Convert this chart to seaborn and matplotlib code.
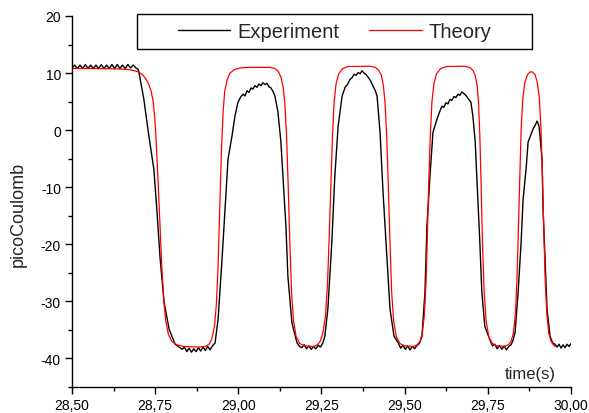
import pandas as pd
import seaborn as sns
import matplotlib.pyplot as plt
from matplotlib.ticker import MultipleLocator, FuncFormatter
from matplotlib.patches import Rectangle

# experiment trace (time in s, charge in pC)
exp_t = [28.500, 28.508, 28.516, 28.524, 28.532, 28.540, 28.548, 28.556, 28.564, 28.572,
         28.580, 28.588, 28.596, 28.604, 28.612, 28.620, 28.628, 28.636, 28.644, 28.652,
         28.660, 28.668, 28.676, 28.684, 28.692, 28.698, 28.701, 28.716, 28.731, 28.746,
         28.755, 28.765, 28.777, 28.792, 28.810, 28.831, 28.838, 28.845, 28.852, 28.859,
         28.866, 28.873, 28.880, 28.887, 28.894, 28.901, 28.908, 28.915, 28.922, 28.930,
         28.939, 28.951, 28.960, 28.969, 28.981, 28.990, 28.999, 29.007, 29.014, 29.020,
         29.026, 29.032, 29.038, 29.044, 29.050, 29.056, 29.062, 29.068, 29.074, 29.080,
         29.086, 29.092, 29.098, 29.104, 29.110, 29.119, 29.128, 29.134, 29.143, 29.149,
         29.161, 29.176, 29.184, 29.191, 29.198, 29.205, 29.212, 29.219, 29.226, 29.233,
         29.240, 29.247, 29.254, 29.260, 29.269, 29.281, 29.290, 29.300, 29.312, 29.321,
         29.328, 29.336, 29.342, 29.348, 29.354, 29.360, 29.366, 29.372, 29.378, 29.384,
         29.390, 29.398, 29.405, 29.411, 29.417, 29.426, 29.435, 29.447, 29.456, 29.468,
         29.480, 29.488, 29.495, 29.502, 29.509, 29.516, 29.523, 29.530, 29.537, 29.544,
         29.552, 29.561, 29.567, 29.576, 29.585, 29.597, 29.605, 29.612, 29.618, 29.624,
         29.630, 29.636, 29.642, 29.648, 29.654, 29.660, 29.666, 29.672, 29.678, 29.684,
         29.690, 29.699, 29.705, 29.712, 29.719, 29.726, 29.732, 29.741, 29.756, 29.764,
         29.771, 29.778, 29.785, 29.792, 29.799, 29.806, 29.813, 29.820, 29.826, 29.832,
         29.841, 29.850, 29.856, 29.865, 29.871, 29.880, 29.886, 29.892, 29.898, 29.904,
         29.913, 29.916, 29.922, 29.928, 29.937, 29.945, 29.952, 29.958, 29.964, 29.970,
         29.976, 29.982, 29.988, 29.994, 30.000]
exp_q = [10.9, 11.4, 10.8, 11.4, 10.8, 11.5, 10.8, 11.4, 10.8, 11.4,
         10.8, 11.5, 10.8, 11.4, 10.8, 11.5, 10.8, 11.5, 10.8, 11.4,
         10.8, 11.5, 10.9, 11.4, 10.9, 10.7, 10.2, 5.4, -1.0, -6.8,
         -13.9, -22.6, -30.2, -34.9, -37.5, -38.4, -38.0, -38.8, -38.2, -38.9,
         -38.3, -38.8, -38.1, -38.7, -38.0, -38.6, -37.9, -38.5, -37.8, -37.3,
         -33.2, -22.6, -13.9, -5.1, -1.0, 2.5, 4.9, 5.8, 6.3, 6.0,
         6.9, 6.6, 7.4, 7.2, 7.8, 7.5, 8.1, 7.8, 8.3, 8.0,
         8.2, 7.6, 7.4, 6.8, 6.0, 3.2, -2.1, -8.1, -16.8, -25.6,
         -33.7, -37.2, -37.9, -38.1, -37.6, -38.3, -37.8, -38.4, -37.9, -38.3,
         -37.7, -38.0, -37.3, -36.1, -31.4, -19.7, -8.1, 0.7, 6.0, 7.5,
         8.0, 8.9, 9.2, 9.8, 9.6, 10.1, 9.9, 10.4, 10.0, 9.7,
         9.3, 8.6, 7.7, 7.0, 6.0, -0.4, -10.9, -22.6, -31.4, -36.1,
         -37.2, -38.2, -37.7, -38.4, -37.8, -38.5, -37.9, -38.3, -37.7, -37.4,
         -36.1, -28.4, -16.8, -8.1, -0.4, 1.9, 3.2, 4.2, 4.0, 4.8,
         4.6, 5.4, 5.2, 5.9, 5.7, 6.3, 6.1, 6.7, 6.4, 6.1,
         5.6, 4.9, 2.5, -2.0, -10.9, -19.7, -28.4, -34.4, -36.7, -37.8,
         -37.5, -38.3, -37.7, -38.4, -37.8, -38.5, -37.9, -37.6, -36.8, -35.4,
         -28.4, -19.7, -12.1, -6.8, -2.1, -0.7, 0.2, 0.8, 1.6, 0.7,
         -5.1, -13.9, -22.6, -31.4, -36.1, -37.3, -37.5, -38.0, -37.5, -38.2,
         -37.6, -38.1, -37.5, -37.9, -37.4]

# theory curve
theo_t = [28.500, 28.560, 28.620, 28.650, 28.670, 28.685, 28.700, 28.712, 28.722, 28.731,
          28.738, 28.744, 28.749, 28.753, 28.758, 28.764, 28.770, 28.776, 28.782, 28.790,
          28.800, 28.815, 28.835, 28.880, 28.900, 28.912, 28.920, 28.928, 28.934, 28.939,
          28.944, 28.949, 28.954, 28.959, 28.966, 28.975, 28.988, 29.005, 29.030, 29.095,
          29.110, 29.120, 29.128, 29.135, 29.140, 29.145, 29.150, 29.155, 29.160, 29.166,
          29.174, 29.185, 29.200, 29.225, 29.238, 29.247, 29.255, 29.262, 29.268, 29.273,
          29.278, 29.283, 29.288, 29.294, 29.302, 29.314, 29.330, 29.395, 29.412, 29.422,
          29.430, 29.436, 29.441, 29.446, 29.451, 29.456, 29.461, 29.467, 29.475, 29.486,
          29.500, 29.525, 29.538, 29.546, 29.553, 29.559, 29.564, 29.568, 29.572, 29.577,
          29.582, 29.588, 29.596, 29.608, 29.625, 29.680, 29.695, 29.705, 29.712, 29.718,
          29.722, 29.726, 29.730, 29.734, 29.739, 29.745, 29.753, 29.764, 29.778, 29.800,
          29.812, 29.820, 29.827, 29.833, 29.838, 29.842, 29.846, 29.850, 29.855, 29.861,
          29.869, 29.877, 29.884, 29.892, 29.899, 29.905, 29.910, 29.914, 29.918, 29.922,
          29.927, 29.933, 29.940, 29.948, 29.953]
theo_q = [10.8, 10.8, 10.75, 10.7, 10.6, 10.45, 10.2, 9.7, 9.0, 8.0,
          6.8, 5.0, 2.0, -2.0, -8.0, -16.0, -24.0, -30.0, -33.5, -35.8,
          -37.0, -37.6, -37.9, -38.0, -37.9, -37.5, -36.6, -34.5, -30.5, -24.0,
          -14.0, -4.0, 3.0, 6.8, 8.8, 10.0, 10.6, 10.9, 11.0, 11.0,
          10.8, 10.3, 9.3, 7.5, 4.5, -1.0, -10.0, -20.0, -28.5, -33.5,
          -36.2, -37.4, -37.8, -37.9, -37.6, -36.9, -35.3, -32.5, -27.0, -19.0,
          -10.0, -1.0, 5.0, 8.2, 9.9, 10.8, 11.15, 11.2, 11.0, 10.5,
          9.6, 7.8, 4.8, -1.0, -10.0, -20.0, -28.5, -33.5, -36.2, -37.4,
          -37.8, -37.9, -37.6, -37.0, -35.5, -32.5, -27.0, -19.0, -10.0, -1.0,
          5.0, 8.2, 9.9, 10.8, 11.15, 11.2, 11.0, 10.5, 9.6, 7.8,
          4.8, -1.0, -10.0, -20.0, -28.5, -33.5, -36.2, -37.4, -37.8, -37.9,
          -37.6, -37.0, -35.5, -32.0, -25.5, -17.0, -8.0, 0.0, 5.5, 8.3,
          9.7, 10.2, 10.2, 9.7, 8.3, 5.5, 0.0, -8.0, -17.0, -25.5,
          -32.0, -35.5, -37.0, -37.7, -37.9]

x_ticks = [28.50, 28.75, 29.00, 29.25, 29.50, 29.75, 30.00]
y_ticks = [-40, -30, -20, -10, 0, 10, 20]

exp_df = pd.DataFrame({'t': exp_t, 'q': exp_q})
theo_df = pd.DataFrame({'t': theo_t, 'q': theo_q})

sns.set_style('ticks')
plt.rcParams['font.family'] = ['Liberation Sans', 'DejaVu Sans']

fig = plt.figure(figsize=(5.89, 4.14), dpi=100)
ax = fig.add_axes([72 / 589, 1 - 388 / 414, 499 / 589, 371 / 414])

sns.lineplot(data=exp_df, x='t', y='q', ax=ax, color='black', lw=1.0,
             sort=False, estimator=None, label='Experiment')
sns.lineplot(data=theo_df, x='t', y='q', ax=ax, color='red', lw=0.9,
             sort=False, estimator=None, label='Theory')

ax.set_xlim(28.5, 30.0)
ax.set_ylim(-45, 20)
ax.set_xticks(x_ticks)
ax.set_yticks(y_ticks)
ax.xaxis.set_minor_locator(MultipleLocator(0.125))
ax.yaxis.set_minor_locator(MultipleLocator(5))
ax.xaxis.set_major_formatter(FuncFormatter(lambda v, p: f'{v:.2f}'.replace('.', ',')))
ax.yaxis.set_major_formatter(FuncFormatter(lambda v, p: f'{v:.0f}'))
ax.tick_params(which='major', direction='out', length=5, width=1, colors='black',
               labelsize=10, pad=3)
ax.tick_params(which='minor', direction='out', length=3, width=1, colors='black')
sns.despine(ax=ax)
for s in ['left', 'bottom']:
    ax.spines[s].set_linewidth(1)
    ax.spines[s].set_color('black')

ax.set_ylabel('picoCoulomb', fontsize=13, va='center')
ax.yaxis.set_label_coords((18 - 72) / 499, (388 - 214) / 371)
ax.set_xlabel('time(s)', fontsize=12, ha='right', va='center')
ax.xaxis.set_label_coords((556 - 72) / 499, (388 - 375) / 371)

handles, labels = ax.get_legend_handles_labels()
ax.get_legend().remove()
ax.legend(handles, labels, loc='center', bbox_to_anchor=(334.5 / 589, 1 - 32.5 / 414),
          bbox_transform=fig.transFigure, ncol=2, frameon=False, fontsize=14.5,
          handlelength=2.6, handletextpad=0.35, columnspacing=1.5)
fig.patches.append(Rectangle((137 / 589, 1 - 50 / 414), 395 / 589, 35 / 414,
                             transform=fig.transFigure, fill=False,
                             edgecolor='black', lw=1))

fig.savefig('out.png', dpi=100)
